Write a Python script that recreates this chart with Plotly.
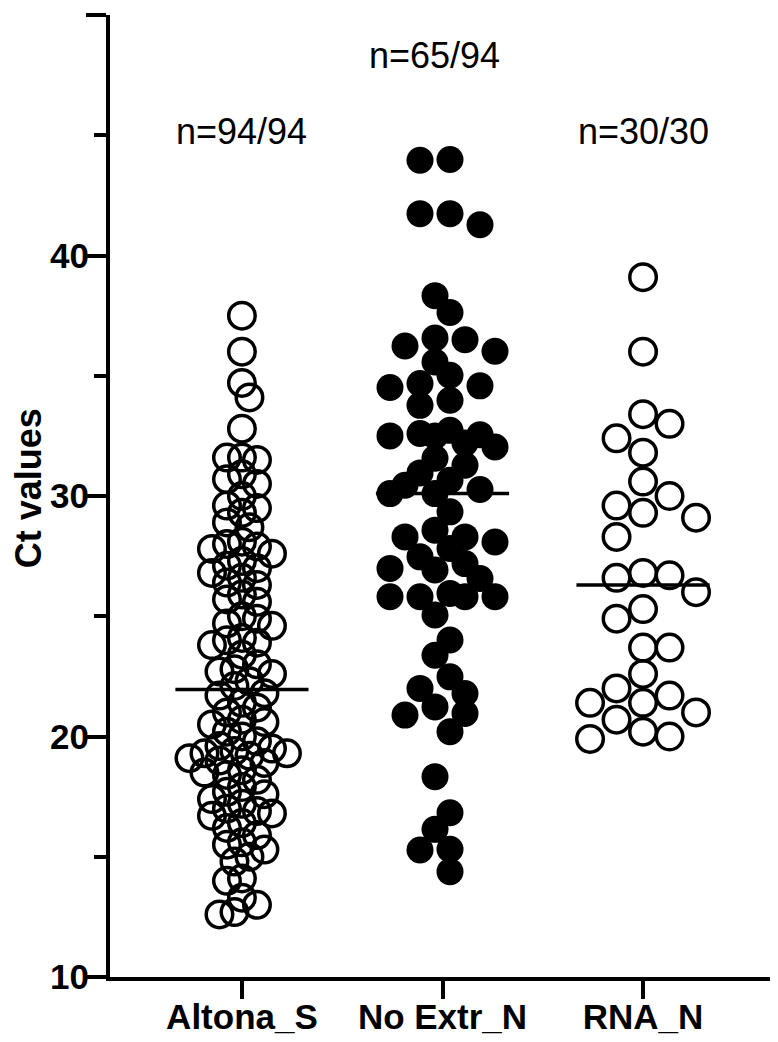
import numpy as np
import plotly.graph_objects as go

# ---------------- data ----------------
categories = ["Altona_S", "No Extr_N", "RNA_N"]
count_labels = ["n=94/94", "n=65/94", "n=30/30"]
y_title = "Ct values"
y_ticks = [10, 20, 30, 40, 50]
y_minor_ticks = [15, 25, 35, 45]

altona_s = [
    37.5, 36.0, 34.7, 34.1, 32.8,
    31.6, 31.6, 31.5,
    30.9, 30.7, 30.5, 30.0,
    29.6, 29.5, 29.3,
    28.9, 28.7,
    28.1, 28.0, 27.9, 27.8, 27.6,
    27.3, 27.1, 27.0, 26.8, 26.6,
    26.4, 26.3, 25.9, 25.7, 25.6,
    25.0, 24.9, 24.7, 24.6,
    24.1, 24.0, 23.9, 23.8,
    23.4, 23.0, 22.8, 22.7, 22.6,
    22.3, 22.1,
    21.8, 21.7, 21.4, 21.2, 21.0,
    20.7, 20.6, 20.5, 20.2, 20.0,
    19.8, 19.6, 19.5, 19.4, 19.3, 19.3, 19.2, 19.1, 19.0, 18.9,
    18.6, 18.5, 18.4, 18.2, 17.9,
    17.7, 17.6, 17.4, 17.2, 17.0, 16.9, 16.8, 16.7,
    16.4, 16.2, 15.9, 15.6,
    15.5, 15.3, 15.0, 14.8, 14.1,
    14.0, 13.3, 13.0, 12.7, 12.6,
]

no_extr_n = [
    43.99, 43.96, 41.74, 41.74, 41.28, 38.33, 37.63, 36.57, 36.50, 36.24,
    36.02, 35.57, 35.02, 34.68, 34.58, 34.51, 33.98, 33.77,
    32.73, 32.60, 32.55, 32.50, 32.50, 32.20, 32.04, 31.57,
    31.28, 30.96, 30.66, 30.45, 30.27, 30.10, 30.10,
    29.34,
    28.58, 28.30, 28.30, 28.09, 27.82,
    27.47, 27.19, 26.99, 26.92, 26.57,
    25.95, 25.81, 25.81, 25.81, 25.81,
    25.05,
    24.01, 23.38,
    22.48, 22.00, 21.79, 21.23, 20.96, 20.89, 20.20,
    18.33, 16.83, 16.14, 15.31, 15.28, 14.38,
]

rna_n = [
    39.1, 36.0, 33.4, 33.0, 32.4, 31.8, 30.6, 30.0, 29.6, 29.3,
    29.1, 28.3, 26.8, 26.7, 26.6, 26.0, 25.3, 24.9, 23.7, 23.7,
    22.6, 22.0, 21.7, 21.4, 21.4, 21.0, 20.7, 20.2, 20.0, 19.9,
]

# ---------------- layout geometry ----------------
# the page adds an 8px body margin, so the figure is 8px smaller than the window
W, H = 770, 1034
M = dict(l=102, r=0, t=7, b=65)
y_range = [10, 50]
x_range = [-0.658, 2.673]
plot_w = W - M["l"] - M["r"]
plot_h = H - M["t"] - M["b"]
px_per_x = plot_w / (x_range[1] - x_range[0])
px_per_y = plot_h / (y_range[1] - y_range[0])


def swarm(values, step_px, dmin_px, kmax, half=False):
    """Greedy beeswarm on a grid of horizontal slots, at most kmax slots
    either side; returns x offsets in data units."""
    order = sorted(range(len(values)), key=lambda i: -values[i])
    placed = []
    res = [0.0] * len(values)
    side = 1
    n = int(kmax) + 1
    for i in order:
        ypx = values[i] * px_per_y
        if half:
            ks = []
            for k in range(0, n):
                if k + 0.5 <= kmax:
                    ks += [side * (k + 0.5), -side * (k + 0.5)]
        else:
            ks = [0]
            for k in range(1, n):
                if k <= kmax:
                    ks += [side * k, -side * k]
        chosen = None
        best, best_d = ks[0] * step_px, -1.0
        for k in ks:
            c = k * step_px
            d = min([((c - px) ** 2 + (ypx - py) ** 2) ** 0.5 for px, py in placed] or [1e9])
            if d >= dmin_px:
                chosen = c
                break
            if d > best_d:
                best, best_d = c, d
        if chosen is None:
            chosen = best
        if chosen != 0:
            side = -side
        placed.append((chosen, ypx))
        res[i] = chosen / px_per_x
    return res


groups = [
    (altona_s, dict(symbol="circle-open", size=26.5, color="black",
                    line=dict(width=3.5, color="black")), 7.5, 14.5, 7, False),
    (no_extr_n, dict(symbol="circle", size=27, color="black",
                     line=dict(width=0)), 15, 19, 3.5, True),
    (rna_n, dict(symbol="circle-open", size=26.5, color="black",
                 line=dict(width=3.5, color="black")), 26.5, 26, 2, False),
]

fig = go.Figure()
half_w = 0.332
for gi, (vals, mk, step, dmin, kmax, half) in enumerate(groups):
    offs = swarm(vals, step, dmin, kmax, half)
    xs = [gi + o for o in offs]
    fig.add_trace(go.Scatter(x=xs, y=vals, mode="markers", marker=mk,
                             showlegend=False, hoverinfo="y", cliponaxis=False))
    med = float(np.median(vals))
    fig.add_trace(go.Scatter(x=[gi - half_w, gi + half_w], y=[med, med],
                             mode="lines", line=dict(color="black", width=3.5),
                             showlegend=False, hoverinfo="skip"))

ann_y = [45.15, 48.3, 45.15]
ann_x = [0, 0.96, 2]
for i, t in enumerate(count_labels):
    fig.add_annotation(x=ann_x[i], y=ann_y[i], text=t, showarrow=False,
                       xref="x", yref="y", yanchor="middle",
                       font=dict(family="Liberation Sans", size=36, color="black"))

# y-axis title, placed like the reference (kept fully inside the figure)
fig.add_annotation(x=-0.1228, y=0.508, xref="paper", yref="paper",
                   text=y_title, textangle=-90, showarrow=False,
                   xanchor="center", yanchor="middle", borderpad=0,
                   font=dict(family="Liberation Sans", size=36, color="black",
                             weight="bold"))

bold = dict(family="Liberation Sans", size=35, color="black", weight="bold")
fig.update_layout(
    width=W, height=H, margin=M,
    paper_bgcolor="white", plot_bgcolor="white",
    xaxis=dict(range=x_range, tickvals=[0, 1, 2], ticktext=categories,
               ticks="outside", ticklen=18, tickwidth=3.5, tickcolor="black",
               ticklabelstandoff=-12,
               showline=True, linewidth=4, linecolor="black",
               showgrid=False, zeroline=False, tickfont=bold, automargin=False),
    yaxis=dict(range=y_range, tickvals=y_ticks,
               ticks="outside", ticklen=20, tickwidth=3.5, tickcolor="black",
               ticklabelstandoff=-10,
               minor=dict(tickvals=y_minor_ticks, ticks="outside", ticklen=12,
                          tickwidth=3.5, tickcolor="black", showgrid=False),
               showline=True, linewidth=4, linecolor="black",
               showgrid=False, zeroline=False, tickfont=bold,
               automargin=False),
)

fig.write_html("out.html")
